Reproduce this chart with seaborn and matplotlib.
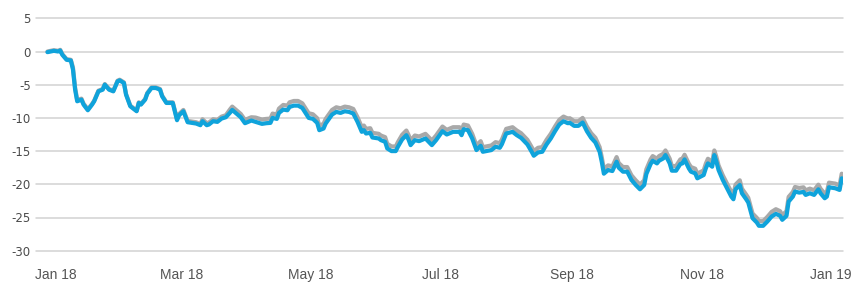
import matplotlib
matplotlib.use("Agg")
import matplotlib.pyplot as plt
import matplotlib.dates as mdates
import seaborn as sns
import pandas as pd
import numpy as np

# Day offsets from 2018-01-01
day_offsets = [
    -4, -1, 1, 2, 3, 5, 7, 8, 9, 10,
    12, 13, 15, 17, 18, 20, 22, 23, 25, 27,
    29, 30, 32, 33, 35, 36, 38, 39, 40, 42,
    43, 45, 47, 49, 50, 52, 54, 55, 57, 58,
    60, 62, 64, 66, 68, 69, 71, 72, 74, 76,
    78, 80, 82, 83, 85, 87, 89, 92, 94, 97,
    99, 101, 102, 104, 105, 107, 109, 110, 112, 114,
    116, 117, 119, 121, 123, 124, 126, 127, 129, 130,
    132, 134, 136, 138, 140, 142, 144, 145, 146, 148,
    149, 152, 153, 155, 156, 158, 160, 161, 163, 165,
    166, 167, 169, 171, 174, 177, 179, 182, 184, 187,
    190, 191, 192, 194, 196, 198, 200, 201, 205, 207,
    209, 210, 212, 215, 217, 219, 222, 224, 225, 227,
    229, 231, 233, 235, 237, 239, 241, 242, 244, 246,
    248, 250, 252, 254, 256, 257, 258, 260, 262, 264,
    265, 267, 269, 271, 273, 275, 277, 278, 280, 281,
    283, 284, 286, 287, 289, 290, 292, 294, 295, 296,
    298, 299, 301, 302, 305, 306, 307, 309, 310, 311,
    312, 314, 316, 318, 319, 320, 322, 323, 325, 326,
    328, 330, 331, 333, 335, 337, 339, 341, 342, 344,
    345, 347, 348, 350, 352, 353, 355, 357, 359, 360,
    362, 363, 364, 367, 369, 370,
]

blue_values = [
    -0.1, 0.1, 0.0, 0.15, -0.5, -1.25, -1.35, -2.7, -5.7, -7.5,
    -7.25, -8.0, -8.85, -8.0, -7.5, -6.0, -5.75, -5.0, -5.75, -6.0,
    -4.5, -4.35, -4.75, -6.5, -8.25, -8.5, -9.0, -7.75, -8.0, -7.25,
    -6.35, -5.5, -5.5, -5.75, -6.75, -7.75, -7.75, -7.75, -10.35, -9.6,
    -9.0, -10.65, -10.75, -10.85, -11.1, -10.5, -11.1, -11.0, -10.5, -10.6,
    -10.1, -9.9, -9.2, -8.8, -9.35, -9.9, -10.8, -10.4, -10.6, -10.9,
    -10.8, -10.75, -10.0, -10.15, -9.25, -8.75, -8.85, -8.35, -8.15, -8.15,
    -8.5, -9.0, -10.0, -10.15, -10.75, -11.85, -11.6, -10.85, -9.95, -9.5,
    -9.1, -9.25, -9.0, -9.1, -9.35, -10.6, -12.1, -11.85, -12.35, -12.25,
    -12.95, -13.1, -13.35, -13.6, -14.6, -15.0, -15.0, -14.35, -13.25, -12.6,
    -13.25, -14.1, -13.35, -13.5, -13.1, -14.1, -13.35, -12.0, -12.5, -12.1,
    -12.1, -12.6, -11.7, -11.85, -13.1, -14.85, -14.2, -15.1, -14.85, -14.35,
    -14.5, -13.95, -12.35, -12.1, -12.6, -13.0, -14.0, -15.1, -15.7, -15.2,
    -15.1, -14.0, -13.1, -12.0, -11.0, -10.5, -10.8, -10.75, -11.2, -11.2,
    -10.7, -12.0, -13.0, -13.7, -15.1, -16.6, -18.4, -17.85, -18.0, -16.6,
    -17.5, -18.1, -18.1, -19.35, -20.1, -20.75, -20.1, -18.45, -16.95, -16.45,
    -16.85, -16.45, -16.1, -15.6, -16.85, -17.95, -17.95, -16.95, -16.85, -16.25,
    -17.6, -18.1, -18.35, -19.1, -18.6, -17.6, -16.85, -17.35, -15.6, -16.6,
    -17.85, -19.35, -20.6, -21.85, -22.25, -20.75, -20.1, -21.35, -22.25, -22.75,
    -25.1, -25.75, -26.25, -26.25, -25.6, -24.85, -24.45, -24.75, -25.35, -24.75,
    -22.6, -21.85, -21.1, -21.25, -21.15, -21.6, -21.35, -21.6, -20.75, -21.35,
    -22.1, -21.85, -20.45, -20.6, -20.85, -19.1,
]

grey_values = [
    0.0, 0.2, 0.1, 0.25, -0.4, -1.15, -1.25, -2.4, -5.4, -7.3,
    -7.1, -7.85, -8.7, -7.9, -7.4, -5.9, -5.65, -4.9, -5.65, -5.9,
    -4.4, -4.25, -4.65, -6.4, -8.15, -8.4, -8.9, -7.65, -7.9, -7.15,
    -6.25, -5.4, -5.4, -5.65, -6.65, -7.65, -7.65, -7.65, -10.15, -9.4,
    -8.8, -10.45, -10.55, -10.65, -10.9, -10.2, -10.8, -10.7, -10.2, -10.3,
    -9.8, -9.6, -8.7, -8.3, -8.85, -9.4, -10.3, -9.9, -9.95, -10.25,
    -10.15, -10.1, -9.35, -9.5, -8.6, -8.05, -8.15, -7.65, -7.45, -7.45,
    -7.8, -8.3, -9.3, -9.45, -10.05, -11.15, -10.9, -10.15, -9.25, -8.8,
    -8.4, -8.55, -8.3, -8.4, -8.65, -9.9, -11.4, -11.15, -11.65, -11.55,
    -12.25, -12.4, -12.65, -12.9, -13.9, -14.3, -14.3, -13.65, -12.55, -11.9,
    -12.55, -13.4, -12.65, -12.8, -12.4, -13.4, -12.65, -11.3, -11.8, -11.4,
    -11.4, -11.9, -11.0, -11.15, -12.4, -14.15, -13.5, -14.4, -14.15, -13.65,
    -13.8, -13.25, -11.65, -11.4, -11.9, -12.3, -13.3, -14.4, -15.0, -14.5,
    -14.4, -13.3, -12.4, -11.3, -10.3, -9.8, -10.1, -10.05, -10.5, -10.5,
    -10.0, -11.3, -12.3, -13.0, -14.4, -15.9, -17.7, -17.15, -17.3, -15.9,
    -16.8, -17.4, -17.4, -18.65, -19.4, -20.05, -19.4, -17.75, -16.25, -15.75,
    -16.15, -15.75, -15.4, -14.9, -16.15, -17.25, -17.25, -16.25, -16.15, -15.55,
    -16.9, -17.4, -17.65, -18.4, -17.9, -16.9, -16.15, -16.65, -14.9, -15.9,
    -17.15, -18.65, -19.9, -21.15, -21.55, -20.05, -19.4, -20.65, -21.55, -22.05,
    -24.4, -25.05, -25.55, -25.55, -24.9, -24.15, -23.75, -24.05, -24.65, -24.05,
    -21.9, -21.15, -20.4, -20.55, -20.45, -20.9, -20.65, -20.9, -20.05, -20.65,
    -21.4, -21.15, -19.75, -19.9, -20.15, -18.4,
]

y_ticks = [5, 0, -5, -10, -15, -20, -25, -30]
x_tick_dates = ["2018-01-01", "2018-03-01", "2018-05-01", "2018-07-01",
                "2018-09-01", "2018-11-01", "2019-01-01"]

base = pd.Timestamp("2018-01-01")
dates = base + pd.to_timedelta(day_offsets, unit="D")
df = pd.DataFrame({"date": dates, "blue": blue_values, "grey": grey_values})

sns.set_style("white")
fig = plt.figure(figsize=(8.54, 2.86), dpi=100)
ax = fig.add_axes([36 / 854, 1 - 250.7 / 286, (843 - 36) / 854, (250.7 - 18.3) / 286])

sns.lineplot(data=df, x="date", y="grey", ax=ax, color="#a9a9a9", linewidth=3.0,
             solid_joinstyle="round", solid_capstyle="round", zorder=3)
sns.lineplot(data=df, x="date", y="blue", ax=ax, color="#0fa3db", linewidth=3.0,
             solid_joinstyle="round", solid_capstyle="round", zorder=4)

ax.set_ylim(-30, 5)
ax.set_yticks(y_ticks)
ax.set_yticklabels([str(v) for v in y_ticks])
b = mdates.date2num(base)
ax.set_xlim(b - 9.4, b + 370.6)
ax.set_xticks([mdates.date2num(pd.Timestamp(d)) for d in x_tick_dates])
ax.xaxis.set_major_formatter(mdates.DateFormatter("%b %y"))

ax.grid(axis="y", color="#d2d2d2", linewidth=1.1, zorder=0)
ax.grid(axis="x", visible=False)
for g in ax.get_ygridlines():
    g.set_clip_on(False)
for s in ax.spines.values():
    s.set_visible(False)
ax.set_xlabel("")
ax.set_ylabel("")
ax.tick_params(axis="y", length=0, pad=3.6, labelsize=8.5, labelcolor="#4a4a4a")
ax.tick_params(axis="x", length=0, pad=12.5, labelsize=10, labelcolor="#555555")
for lab in ax.get_xticklabels():
    lab.set_fontfamily("Liberation Sans")
for lab in ax.get_yticklabels():
    lab.set_fontfamily("DejaVu Sans")

fig.savefig("out.png", dpi=100)
